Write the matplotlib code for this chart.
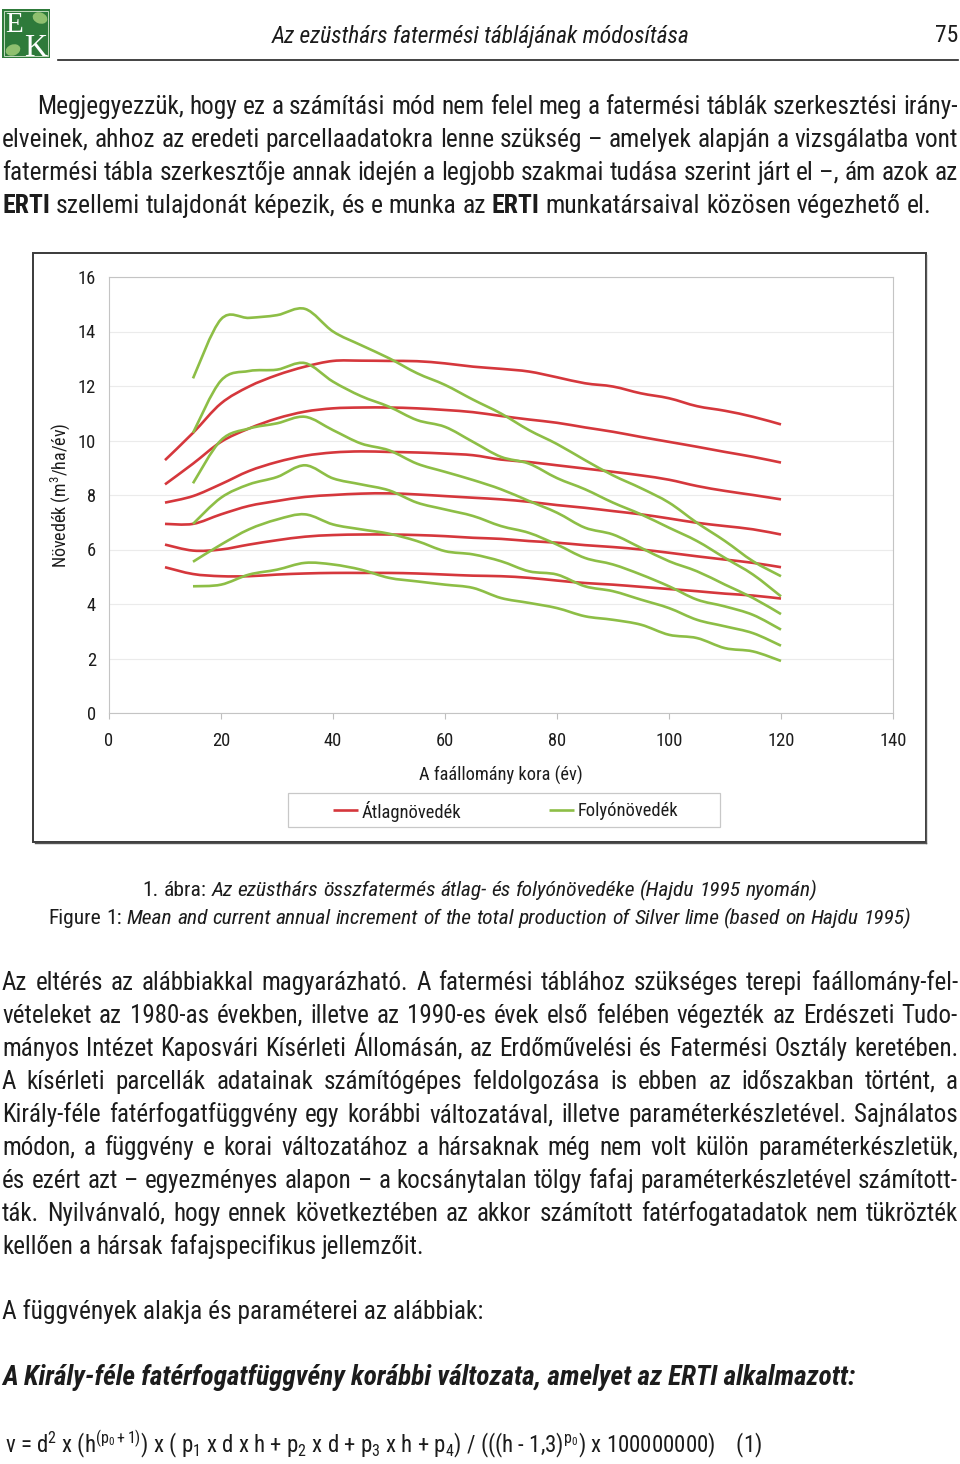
import numpy as np
import matplotlib
matplotlib.use("Agg")
import matplotlib.pyplot as plt
from matplotlib import font_manager as fm
from matplotlib.path import Path
from matplotlib.patches import PathPatch, Rectangle, Ellipse

# ------------------------------------------------------------------ data
ages_mai = [10, 15, 20, 25, 30, 35, 40, 45, 50, 55, 60, 65, 70, 75, 80, 85, 90, 95, 100, 105, 110, 115, 120]
ages_cai = [15, 20, 25, 30, 35, 40, 45, 50, 55, 60, 65, 70, 75, 80, 85, 90, 95, 100, 105, 110, 115, 120]

mai_1 = [9.28, 10.28, 11.36, 11.98, 12.40, 12.71, 12.92, 12.93, 12.92, 12.91, 12.83, 12.71, 12.63, 12.53, 12.32, 12.10, 11.98, 11.73, 11.55, 11.26, 11.09, 10.87, 10.59]
mai_2 = [8.39, 9.15, 9.95, 10.44, 10.81, 11.06, 11.18, 11.21, 11.21, 11.18, 11.12, 11.04, 10.90, 10.77, 10.65, 10.48, 10.32, 10.13, 9.95, 9.77, 9.58, 9.40, 9.19]
mai_3 = [7.72, 7.96, 8.40, 8.88, 9.21, 9.44, 9.56, 9.60, 9.58, 9.56, 9.52, 9.46, 9.30, 9.21, 9.09, 8.97, 8.85, 8.72, 8.56, 8.33, 8.15, 8.00, 7.84]
mai_4 = [6.94, 6.94, 7.29, 7.60, 7.78, 7.93, 8.00, 8.05, 8.06, 8.02, 7.96, 7.90, 7.84, 7.75, 7.63, 7.53, 7.41, 7.29, 7.14, 6.98, 6.86, 6.74, 6.55]
mai_5 = [6.18, 5.96, 6.00, 6.18, 6.34, 6.47, 6.53, 6.55, 6.55, 6.53, 6.49, 6.43, 6.39, 6.31, 6.25, 6.16, 6.09, 6.00, 5.88, 5.75, 5.63, 5.51, 5.35]
mai_6 = [5.35, 5.10, 5.02, 5.02, 5.08, 5.12, 5.14, 5.14, 5.14, 5.12, 5.08, 5.04, 5.02, 4.96, 4.86, 4.77, 4.71, 4.63, 4.55, 4.47, 4.38, 4.31, 4.20]

cai_1 = [12.28, 14.45, 14.50, 14.60, 14.83, 14.00, 13.50, 13.02, 12.47, 12.04, 11.50, 10.99, 10.38, 9.87, 9.28, 8.72, 8.25, 7.72, 6.98, 6.31, 5.57, 5.02]
cai_2 = [10.28, 12.20, 12.55, 12.60, 12.84, 12.16, 11.63, 11.24, 10.75, 10.50, 9.95, 9.40, 9.15, 8.62, 8.21, 7.72, 7.29, 6.80, 6.31, 5.69, 5.08, 4.28]
cai_3 = [8.43, 10.01, 10.44, 10.63, 10.87, 10.38, 9.89, 9.64, 9.15, 8.85, 8.55, 8.21, 7.78, 7.35, 6.80, 6.55, 6.06, 5.57, 5.20, 4.71, 4.22, 3.63]
cai_4 = [6.94, 7.90, 8.39, 8.66, 9.09, 8.61, 8.39, 8.17, 7.72, 7.47, 7.23, 6.86, 6.61, 6.18, 5.69, 5.45, 5.08, 4.65, 4.16, 3.91, 3.60, 3.06]
cai_5 = [5.55, 6.18, 6.74, 7.10, 7.29, 6.92, 6.74, 6.58, 6.31, 5.94, 5.82, 5.57, 5.20, 5.08, 4.65, 4.47, 4.16, 3.85, 3.42, 3.18, 2.93, 2.47]
cai_6 = [4.65, 4.71, 5.08, 5.26, 5.51, 5.45, 5.26, 4.96, 4.83, 4.71, 4.59, 4.22, 4.04, 3.85, 3.55, 3.42, 3.24, 2.87, 2.75, 2.38, 2.26, 1.91]

mai_series = [mai_1, mai_2, mai_3, mai_4, mai_5, mai_6]
cai_series = [cai_1, cai_2, cai_3, cai_4, cai_5, cai_6]

x_ticks = [0, 20, 40, 60, 80, 100, 120, 140]
y_ticks = [0, 2, 4, 6, 8, 10, 12, 14, 16]
legend_labels = ["Átlagnövedék", "Folyónövedék"]
x_label = "A faállomány kora (év)"
y_label = "Növedék (m$^3$/ha/év)"

header_title = "Az ezüsthárs fatermési táblájának módosítása"
page_number = "75"

para1 = [
    "Megjegyezzük, hogy ez a számítási mód nem felel meg a fatermési táblák szerkesztési irány-",
    "elveinek, ahhoz az eredeti parcellaadatokra lenne szükség – amelyek alapján a vizsgálatba vont",
    "fatermési tábla szerkesztője annak idején a legjobb szakmai tudása szerint járt el –, ám azok az",
    "**ERTI** szellemi tulajdonát képezik, és e munka az **ERTI** munkatársaival közösen végezhető el.",
]
para2 = [
    "Az eltérés az alábbiakkal magyarázható. A fatermési táblához szükséges terepi faállomány-fel-",
    "vételeket az 1980-as években, illetve az 1990-es évek első felében végezték az Erdészeti Tudo-",
    "mányos Intézet Kaposvári Kísérleti Állomásán, az Erdőművelési és Fatermési Osztály keretében.",
    "A kísérleti parcellák adatainak számítógépes feldolgozása is ebben az időszakban történt, a",
    "Király-féle fatérfogatfüggvény egy korábbi változatával, illetve paraméterkészletével. Sajnálatos",
    "módon, a függvény e korai változatához a hársaknak még nem volt külön paraméterkészletük,",
    "és ezért azt – egyezményes alapon – a kocsánytalan tölgy fafaj paraméterkészletével számított-",
    "ták. Nyilvánvaló, hogy ennek következtében az akkor számított fatérfogatadatok nem tükrözték",
    "kellően a hársak fafajspecifikus jellemzőit.",
]
caption_hu = ("1. ábra:", "Az ezüsthárs  összfatermés átlag- és folyónövedéke (Hajdu 1995 nyomán)")
caption_en = ("Figure 1:", "Mean and current annual increment of the total production of Silver lime (based on Hajdu 1995)")
line_params = "A függvények alakja és paraméterei az alábbiak:"
heading = "A Király-féle fatérfogatfüggvény korábbi változata, amelyet az ERTI alkalmazott:"
formula = (r"v = d$^{2}$ x (h$^{(\mathrm{p}_0 + 1)}$) x ( p$_1$ x d x h + p$_2$ x d + p$_3$ x h + p$_4$)"
           r" / (((h - 1,3)$^{\mathrm{p}_0}$) x 100000000)    (1)")

# ------------------------------------------------------------------ fonts
avail = {f.name for f in fm.fontManager.ttflist}
FAM = None
STRETCH = "normal"
for cand in ["Liberation Sans Narrow", "Roboto Condensed", "Open Sans Condensed", "Arial Narrow"]:
    if cand in avail:
        FAM = cand
        break
if FAM is None:
    if any(f.name == "DejaVu Sans" and f.stretch == "condensed" for f in fm.fontManager.ttflist):
        FAM = "DejaVu Sans"
        STRETCH = "condensed"
    else:
        FAM = "Liberation Sans"

plt.rcParams["font.family"] = [FAM, "DejaVu Sans"]
plt.rcParams["mathtext.fontset"] = "custom"
plt.rcParams["mathtext.rm"] = FAM
plt.rcParams["mathtext.it"] = FAM + ":italic"
plt.rcParams["mathtext.bf"] = FAM + ":bold"

TXT = "#1c1c1c"
RED = "#d5373c"
GREEN = "#8dbe46"

fig = plt.figure(figsize=(9.6, 14.64), dpi=100)
page = fig.add_axes([0, 0, 1, 1])
page.set_xlim(0, 960)
page.set_ylim(1464, 0)
page.axis("off")
renderer = fig.canvas.get_renderer()


def props(size, style="normal", weight="normal"):
    return dict(family=[FAM, "DejaVu Sans"], fontstretch=STRETCH, fontsize=size,
                fontstyle=style, fontweight=weight, color=TXT)


def width_of(t):
    return t.get_window_extent(renderer).width


def space_width(size, style="normal", weight="normal"):
    a = page.text(0, -100, "x x", **props(size, style, weight))
    b = page.text(0, -100, "xx", **props(size, style, weight))
    w = width_of(a) - width_of(b)
    a.remove(); b.remove()
    return w


def parse_runs(line, style="normal", weight="normal"):
    items = []
    parts = line.split("**")
    for k, part in enumerate(parts):
        wt = "bold" if k % 2 == 1 else weight
        for w in part.split(" "):
            if w:
                items.append((w, style, wt))
    return items


def put_words(items, y, x0=0, x1=None, mode="left", size=18, xc=None):
    texts = [page.text(0, y, w, va="baseline", ha="left", **props(size, st, wt)) for (w, st, wt) in items]
    widths = [width_of(t) for t in texts]
    sp = space_width(size)
    n = len(texts)
    natural = sum(widths) + sp * (n - 1)
    if mode == "justify":
        target = x1 - x0
        if natural > target:
            scale = target / natural
            for t in texts:
                t.set_fontsize(size * scale)
            widths = [width_of(t) for t in texts]
        gap = (target - sum(widths)) / max(n - 1, 1)
        x = x0
    elif mode == "center":
        gap = sp
        x = xc - natural / 2
    else:
        gap = sp
        x = x0
    for t, w in zip(texts, widths):
        t.set_x(x)
        x += w + gap
    return texts


# ------------------------------------------------------------------ header
page.add_patch(Rectangle((2, 9), 48, 49, facecolor="#2e7a3a", edgecolor="none"))
page.add_patch(Rectangle((4, 11), 44, 45, facecolor="none", edgecolor="#d9ead3", lw=0.6))
page.add_patch(Ellipse((40, 18), 15, 11, angle=20, facecolor="#8fc06f", edgecolor="none"))
page.add_patch(Ellipse((13, 50), 15, 11, angle=-20, facecolor="#8fc06f", edgecolor="none"))
page.text(5, 32, "E", family="Liberation Serif", fontsize=21, color="white", va="baseline")
page.text(24, 56, "K", family="Liberation Serif", fontsize=23, color="white", va="baseline")
page.text(481, 43, header_title, ha="center", va="baseline", **props(16.9, "italic"))
page.text(958, 42, page_number, ha="right", va="baseline", **props(17))
page.plot([58, 958], [60, 60], color="#222222", lw=1.2)

# ------------------------------------------------------------------ paragraph 1
BODY = 18.5
base1 = [114, 147, 180, 213]
for i, (line, yb) in enumerate(zip(para1, base1)):
    x0 = 37 if i == 0 else 2
    mode = "justify" if i < len(para1) - 1 else "left"
    put_words(parse_runs(line), yb, x0, 958, mode, BODY)

# ------------------------------------------------------------------ chart frame
page.add_patch(Rectangle((33, 253), 893, 589, fill=False, edgecolor="#3a3a3a", lw=1.4))
page.plot([926, 926], [255, 843], color="#555555", lw=1.0)
page.plot([35, 926], [843, 843], color="#555555", lw=1.0)

ax = fig.add_axes([109 / 960, 1 - 713 / 1464, 784 / 960, 436 / 1464])
ax.set_xlim(0, 140)
ax.set_ylim(0, 16)
ax.set_xticks(x_ticks)
ax.set_yticks(y_ticks)
ax.tick_params(axis="x", direction="out", length=4, width=0.8, color="#bfbfbf", pad=10,
               labelsize=13.3, labelcolor=TXT)
ax.tick_params(axis="y", direction="out", length=0, pad=9.5, labelsize=13.3, labelcolor=TXT)
for lab in ax.get_xticklabels() + ax.get_yticklabels():
    lab.set_fontfamily([FAM, "DejaVu Sans"])
    lab.set_fontstretch(STRETCH)
for s in ax.spines.values():
    s.set_color("#c4c4c4")
    s.set_linewidth(0.8)
ax.grid(axis="y", color="#ebebeb", lw=0.8)
ax.set_axisbelow(True)


def smooth_path(xs, ys):
    pts = np.column_stack([xs, ys]).astype(float)
    n = len(pts)
    verts = [pts[0]]
    codes = [Path.MOVETO]
    for i in range(n - 1):
        p0 = pts[i - 1] if i > 0 else pts[i]
        p1 = pts[i]
        p2 = pts[i + 1]
        p3 = pts[i + 2] if i + 2 < n else pts[i + 1]
        c1 = p1 + (p2 - p0) / 6.0
        c2 = p2 - (p3 - p1) / 6.0
        verts += [c1, c2, p2]
        codes += [Path.CURVE4] * 3
    return Path(verts, codes)


for ser in mai_series:
    ax.add_patch(PathPatch(smooth_path(ages_mai, ser), fill=False, edgecolor=RED, lw=1.9,
                           capstyle="butt", joinstyle="round", zorder=3))
for ser in cai_series:
    ax.add_patch(PathPatch(smooth_path(ages_cai, ser), fill=False, edgecolor=GREEN, lw=1.9,
                           capstyle="butt", joinstyle="round", zorder=3))

# axis titles
page.text(501, 775, x_label, ha="center", va="center", **props(13.2))
page.text(60, 495, y_label, ha="center", va="center", rotation=90, **props(13))

# legend
page.add_patch(Rectangle((288, 793), 432, 34, fill=False, edgecolor="#c8c8c8", lw=0.9))
page.plot([333, 358], [810, 810], color=RED, lw=1.9, solid_capstyle="butt")
page.plot([549, 574], [810, 810], color=GREEN, lw=1.9, solid_capstyle="butt")
page.text(362, 811, legend_labels[0], ha="left", va="center", **props(13.3))
page.text(578, 811, legend_labels[1], ha="left", va="center", **props(13.3))

# ------------------------------------------------------------------ caption
CAP = 15.45
items = [(w, "normal", "normal") for w in caption_hu[0].split()] + \
        [(w, "italic", "normal") for w in caption_hu[1].split()]
put_words(items, 896, mode="center", size=CAP, xc=480)
items = [(w, "normal", "normal") for w in caption_en[0].split()] + \
        [(w, "italic", "normal") for w in caption_en[1].split()]
put_words(items, 924, mode="center", size=CAP, xc=480)

# ------------------------------------------------------------------ paragraph 2
base2 = [990 + 33 * k for k in range(len(para2))]
for i, (line, yb) in enumerate(zip(para2, base2)):
    mode = "justify" if i < len(para2) - 1 else "left"
    put_words(parse_runs(line), yb, 2, 958, mode, 18)

page.text(2, 1319, line_params, ha="left", va="baseline", **props(18.3))
page.text(2, 1385, heading, ha="left", va="baseline", **props(19.6, "italic", "bold"))
page.text(5, 1452, formula, ha="left", va="baseline", **props(16.5))

fig.savefig("out.png", dpi=100)
